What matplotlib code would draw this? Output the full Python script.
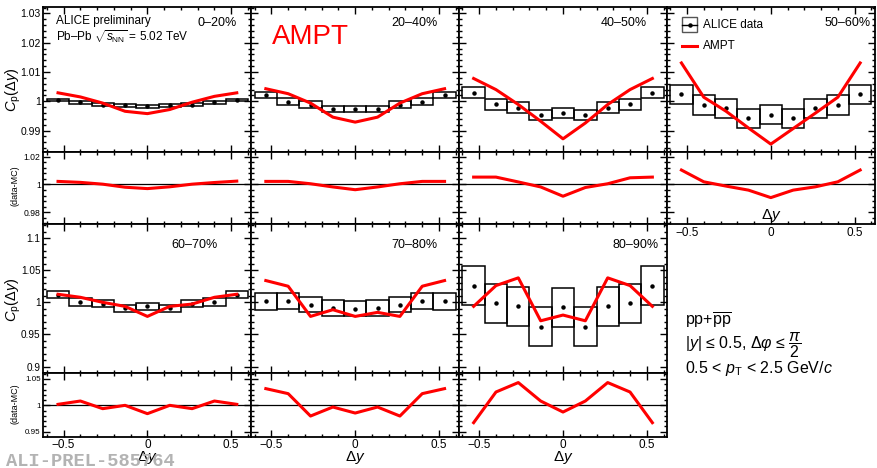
import matplotlib
matplotlib.use("Agg")
import matplotlib.pyplot as plt
from matplotlib.patches import Rectangle
from matplotlib.lines import Line2D
from matplotlib.ticker import MultipleLocator, FuncFormatter

plt.rcParams['font.family'] = ['Liberation Sans', 'DejaVu Sans']
plt.rcParams['mathtext.fontset'] = 'custom'
plt.rcParams['mathtext.rm'] = 'Liberation Sans'
plt.rcParams['mathtext.it'] = 'Liberation Sans:italic'
plt.rcParams['mathtext.bf'] = 'Liberation Sans:bold'

W, H = 878, 468

# rapidity-gap bins (centres) and bin width
dy = [-0.5333, -0.4, -0.2667, -0.1333, 0.0, 0.1333, 0.2667, 0.4, 0.5333]
bin_width = 0.1333

centralities = ['0–20%', '20–40%', '40–50%', '50–60%', '60–70%', '70–80%', '80–90%']

# ALICE data: C_p(dy) and systematic half-widths
data_0_20 = [1.0005, 0.9997, 0.9989, 0.9986, 0.9983, 0.9986, 0.9989, 0.9997, 1.0005]
syst_0_20 = [0.00045, 0.00050, 0.00050, 0.00050, 0.00050, 0.00050, 0.00050, 0.00050, 0.00045]
data_20_40 = [1.0021, 0.9999, 0.9989, 0.9974, 0.9974, 0.9974, 0.9989, 0.9999, 1.0021]
syst_20_40 = [0.0011, 0.0013, 0.0011, 0.0010, 0.0010, 0.0010, 0.0011, 0.0013, 0.0011]
data_40_50 = [1.0030, 0.9990, 0.9978, 0.9954, 0.9960, 0.9954, 0.9978, 0.9990, 1.0030]
syst_40_50 = [0.0018, 0.0018, 0.0018, 0.0017, 0.0017, 0.0017, 0.0018, 0.0018, 0.0018]
data_50_60 = [1.0024, 0.9987, 0.9976, 0.9942, 0.9955, 0.9942, 0.9976, 0.9987, 1.0024]
syst_50_60 = [0.0033, 0.0033, 0.0033, 0.0033, 0.0033, 0.0033, 0.0033, 0.0033, 0.0033]
data_60_70 = [1.0119, 1.0002, 0.9981, 0.9908, 0.9937, 0.9908, 0.9981, 1.0002, 1.0119]
syst_60_70 = [0.0052, 0.0065, 0.0060, 0.0055, 0.0052, 0.0055, 0.0060, 0.0065, 0.0052]
data_70_80 = [1.0013, 1.0016, 0.9966, 0.9908, 0.9903, 0.9908, 0.9966, 1.0016, 1.0013]
syst_70_80 = [0.0128, 0.0122, 0.0122, 0.0128, 0.0122, 0.0128, 0.0122, 0.0122, 0.0128]
data_80_90 = [1.0257, 0.9986, 0.9940, 0.9622, 0.9924, 0.9622, 0.9940, 0.9986, 1.0257]
syst_80_90 = [0.0300, 0.0300, 0.0305, 0.0300, 0.0300, 0.0300, 0.0305, 0.0300, 0.0300]

# AMPT model curves
ampt_0_20 = [1.0029, 1.0015, 0.9994, 0.9966, 0.9958, 0.9972, 0.9997, 1.0017, 1.0029]
ampt_20_40 = [1.0043, 1.0026, 0.9994, 0.9946, 0.9929, 0.9946, 0.9994, 1.0026, 1.0043]
ampt_40_50 = [1.0078, 1.0040, 0.9989, 0.9932, 0.9872, 0.9926, 0.9989, 1.0040, 1.0078]
ampt_50_60 = [1.0131, 1.0014, 0.9966, 0.9909, 0.9854, 0.9907, 0.9960, 1.0014, 1.0131]
ampt_60_70 = [1.0125, 1.0078, 1.0000, 0.9937, 0.9781, 0.9937, 0.9973, 1.0078, 1.0125]
ampt_70_80 = [1.0338, 1.0250, 0.9781, 0.9885, 0.9781, 0.9844, 0.9781, 1.0250, 1.0338]
ampt_80_90 = [0.9937, 1.0260, 1.0380, 0.9713, 0.9802, 0.9713, 1.0380, 1.0260, 0.9937]

# (data-MC) comparison
cmp_0_20 = [1.0022, 1.0015, 1.0002, 0.9980, 0.9970, 0.9983, 1.0002, 1.0014, 1.0024]
cmp_20_40 = [1.0022, 1.0022, 1.0005, 0.9982, 0.9962, 0.9982, 1.0005, 1.0022, 1.0022]
cmp_40_50 = [1.0053, 1.0053, 1.0018, 0.9982, 0.9915, 0.9978, 1.0005, 1.0048, 1.0053]
cmp_50_60 = [1.0104, 1.0019, 0.9988, 0.9959, 0.9905, 0.9959, 0.9983, 1.0019, 1.0104]
cmp_60_70 = [1.0019, 1.0082, 0.9937, 1.0000, 0.9842, 1.0000, 0.9937, 1.0082, 1.0019]
cmp_70_80 = [1.0317, 1.0222, 0.9797, 0.9968, 0.9854, 0.9968, 0.9797, 1.0222, 1.0317]
cmp_80_90 = [0.9671, 1.0253, 1.0432, 1.0082, 0.9873, 1.0082, 1.0432, 1.0253, 0.9671]

panels = [
    (data_0_20, syst_0_20, ampt_0_20, cmp_0_20),
    (data_20_40, syst_20_40, ampt_20_40, cmp_20_40),
    (data_40_50, syst_40_50, ampt_40_50, cmp_40_50),
    (data_50_60, syst_50_60, ampt_50_60, cmp_50_60),
    (data_60_70, syst_60_70, ampt_60_70, cmp_60_70),
    (data_70_80, syst_70_80, ampt_70_80, cmp_70_80),
    (data_80_90, syst_80_90, ampt_80_90, cmp_80_90),
]

col_edges = [43.5, 251.3, 459.1, 666.9, 874.7]
row_bounds = [(6.7, 152.3, 223.8), (223.8, 373.3, 436.7)]
main_ylim = [(0.9826, 1.0323), (0.8897, 1.122)]
cmp_ylim = [(0.9716, 1.0232), (0.9405, 1.0608)]
main_major = [0.01, 0.05]
cmp_major = [0.02, 0.05]
# right end (x) and vertical centre (y) of each centrality label, in axes fractions
label_pos = [(0.931, 0.888), (0.898, 0.888), (0.903, 0.888), (0.982, 0.888),
             (0.840, 0.858), (0.898, 0.858), (0.962, 0.858)]

fig = plt.figure(figsize=(W / 100, H / 100), dpi=100)


def px_rect(x0, y0, x1, y1):
    return [x0 / W, 1 - y1 / H, (x1 - x0) / W, (y1 - y0) / H]


fmt = FuncFormatter(lambda v, p: ('%g' % round(v, 4)).replace('-', '\u2212'))


def style(ax, major, minor, ylabels, xlabels, ysize):
    ax.set_xlim(-0.62, 0.62)
    ax.xaxis.set_major_locator(MultipleLocator(0.5))
    ax.xaxis.set_minor_locator(MultipleLocator(0.1))
    ax.xaxis.set_major_formatter(fmt)
    ax.yaxis.set_major_locator(MultipleLocator(major))
    ax.yaxis.set_minor_locator(MultipleLocator(minor))
    ax.yaxis.set_major_formatter(fmt)
    ax.tick_params(which='both', direction='in', top=True, right=True, width=1.0)
    ax.tick_params(which='major', length=5)
    ax.tick_params(which='minor', length=2.5)
    ax.tick_params(axis='y', labelsize=ysize, labelleft=ylabels, pad=2)
    ax.tick_params(axis='x', labelsize=8.5, labelbottom=xlabels, pad=2)
    for s in ax.spines.values():
        s.set_linewidth(1.3)


for i, (vals, syst, ampt, cmp) in enumerate(panels):
    row, col = (0, i) if i < 4 else (1, i - 4)
    top, mid, bot = row_bounds[row]
    x0, x1 = col_edges[col], col_edges[col + 1]
    ax = fig.add_axes(px_rect(x0, top, x1, mid))
    axr = fig.add_axes(px_rect(x0, mid, x1, bot))

    for x, v, s in zip(dy, vals, syst):
        ax.add_patch(Rectangle((x - bin_width / 2, v - s), bin_width, 2 * s,
                               fill=False, ec='black', lw=1.1, zorder=2))
    ax.plot(dy, vals, 'o', color='black', ms=2.2, zorder=3)
    ax.plot(dy, ampt, color='#ff0000', lw=2.2, zorder=4)
    ax.set_ylim(*main_ylim[row])
    style(ax, main_major[row], main_major[row] / 5, col == 0, False,
          7.5 if row == 0 else 7.2)

    axr.axhline(1.0, color='black', lw=0.9, zorder=2)
    axr.plot(dy, cmp, color='#ff0000', lw=2.2, zorder=4)
    axr.set_ylim(*cmp_ylim[row])
    style(axr, cmp_major[row], cmp_major[row] / 5, col == 0,
          row == 1 or col == 3, 6.2 if row == 0 else 5.8)

    lx, ly = label_pos[i]
    ax.text(lx, ly, centralities[i], transform=ax.transAxes,
            ha='right', va='center', fontsize=9)

    if i == 0:
        ax.text(0.06, 0.9, 'ALICE preliminary', transform=ax.transAxes,
                fontsize=8.5, va='center')
        ax.text(0.06, 0.795, r'Pb–Pb $\sqrt{s_{\rm NN}}$ = 5.02 TeV',
                transform=ax.transAxes, fontsize=8.5, va='center')
    if i == 1:
        ax.text(0.1, 0.79, 'AMPT', transform=ax.transAxes, fontsize=20,
                color='#ff0000', va='center')
    if i == 3:
        # legend: ALICE data box and AMPT line
        ax.add_patch(Rectangle((0.073, 0.826), 0.072, 0.103, transform=ax.transAxes,
                               fill=False, ec='#555555', lw=1.0))
        ax.add_line(Line2D([0.073, 0.145], [0.8775, 0.8775], transform=ax.transAxes,
                           color='black', lw=1.0))
        ax.plot([0.109], [0.8775], 'o', color='black', ms=2.2, transform=ax.transAxes)
        ax.text(0.175, 0.8775, 'ALICE data', transform=ax.transAxes,
                fontsize=8.5, va='center')
        ax.add_line(Line2D([0.073, 0.145], [0.73, 0.73], transform=ax.transAxes,
                           color='#ff0000', lw=2.2))
        ax.text(0.175, 0.73, 'AMPT', transform=ax.transAxes,
                fontsize=8.5, va='center')

# axis titles
for yc in (90, 300):
    fig.text(13 / W, 1 - yc / H, r'$C_{\rm p}(\Delta y)$', rotation=90,
             ha='center', va='center', fontsize=10.5)
for yc in (186, 404):
    fig.text(15 / W, 1 - yc / H, '(data-MC)', rotation=90,
             ha='center', va='center', fontsize=6.5)
for xc in (147.5, 355.2, 563.0):
    fig.text(xc / W, 1 - 457 / H, r'$\Delta y$', ha='center', va='center', fontsize=11)
fig.text(770.8 / W, 1 - 216 / H, r'$\Delta y$', ha='center', va='center', fontsize=11)

# selection summary
fig.text(685 / W, 1 - 321 / H, r'pp+$\overline{\rm pp}$', fontsize=11.5, va='center')
fig.text(685 / W, 1 - 345 / H, r'$|y|$ ≤ 0.5, $\Delta\varphi$ ≤ $\dfrac{\pi}{2}$',
         fontsize=11.5, va='center')
fig.text(685 / W, 1 - 368 / H, r'0.5 < $p_{\rm T}$ < 2.5 GeV/$c$', fontsize=11.5, va='center')

fig.text(6 / W, 1 - 466 / H, 'ALI-PREL-585764', fontsize=13.5, color='#b3b3b3',
         family='Liberation Mono', weight='bold', va='baseline')

fig.savefig('out.png', dpi=100)
